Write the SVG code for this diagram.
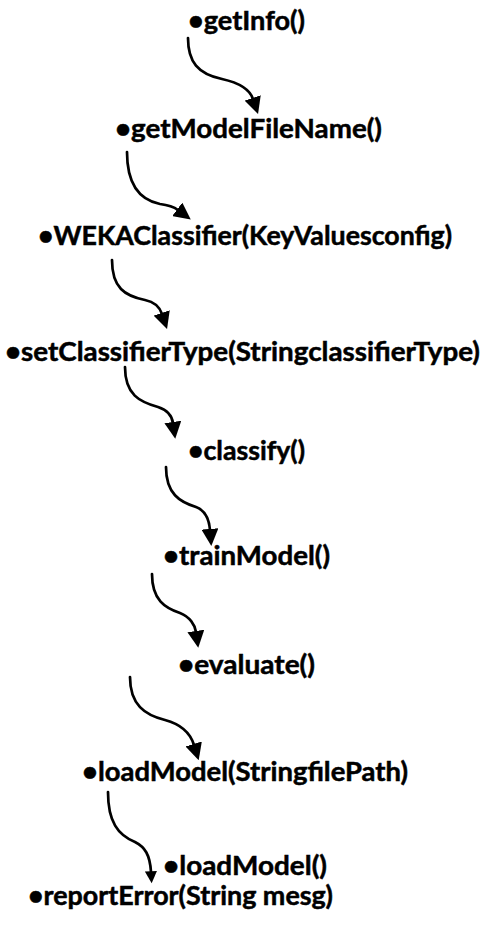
<svg xmlns="http://www.w3.org/2000/svg" width="485" height="935" viewBox="0 0 485 935">
<style>
.t{font-family:Lato,"Open Sans","Liberation Sans",sans-serif;font-weight:bold;font-size:27px;fill:#000;stroke:#000;stroke-width:0.5}
.c{fill:none;stroke:#000;stroke-width:2.7;stroke-linecap:round}
</style>
<defs>
<marker id="ah" viewBox="0 0 16 16" refX="1" refY="8" markerWidth="17" markerHeight="17" markerUnits="userSpaceOnUse" orient="auto">
<path d="M0,0 L16,8 L0,16 Z" fill="#000"/>
</marker>
<marker id="ahs" viewBox="0 0 16 16" refX="1" refY="8" markerWidth="13" markerHeight="12" markerUnits="userSpaceOnUse" orient="auto">
<path d="M0,0 L16,8 L0,16 Z" fill="#000"/>
</marker>
</defs>
<rect width="485" height="935" fill="#fff"/>
<g id="connectors">
<path class="c" marker-end="url(#ah)" d="M188,38 C188,62 198,74 222,79 C240,83 250,90 253,99"/>
<path class="c" marker-end="url(#ah)" d="M127,152 C127,185 140,200 160,204 C168,205 174,207 178,210"/>
<path class="c" marker-end="url(#ah)" d="M112,260 C112,288 125,296 145,300 C155,302 160,308 162,314"/>
<path class="c" marker-end="url(#ah)" d="M125,367 C125,395 140,402 158,407 C167,410 172,416 173,423"/>
<path class="c" marker-end="url(#ah)" d="M166,467 C166,494 180,502 196,507 C204,510 209,518 210,530"/>
<path class="c" marker-end="url(#ah)" d="M152,574 C152,600 165,608 180,613 C190,617 195,625 196,632"/>
<path class="c" marker-end="url(#ah)" d="M130,677 C130,705 145,715 165,720 C180,724 190,732 194,745"/>
<path class="c" marker-end="url(#ahs)" d="M108,792 C108,822 118,835 135,842 C145,847 150,855 151,872"/>
</g>
<g id="n1"><text class="t" x="188" y="30" textLength="117" lengthAdjust="spacingAndGlyphs">•getInfo()</text></g>
<g id="n2"><text class="t" x="115" y="138" textLength="267" lengthAdjust="spacingAndGlyphs">•getModelFileName()</text></g>
<g id="n3"><text class="t" x="38" y="245" textLength="414" lengthAdjust="spacingAndGlyphs">•WEKAClassifier(KeyValuesconfig)</text></g>
<g id="n4"><text class="t" x="5" y="361" textLength="475" lengthAdjust="spacingAndGlyphs">•setClassifierType(StringclassifierType)</text></g>
<g id="n5"><text class="t" x="188" y="460" textLength="117" lengthAdjust="spacingAndGlyphs">•classify()</text></g>
<g id="n6"><text class="t" x="163" y="565" textLength="167" lengthAdjust="spacingAndGlyphs">•trainModel()</text></g>
<g id="n7"><text class="t" x="178" y="674" textLength="137" lengthAdjust="spacingAndGlyphs">•evaluate()</text></g>
<g id="n8"><text class="t" x="82" y="781" textLength="326" lengthAdjust="spacingAndGlyphs">•loadModel(StringfilePath)</text></g>
<g id="n9"><text class="t" x="163" y="875" textLength="164" lengthAdjust="spacingAndGlyphs">•loadModel()</text></g>
<g id="n10"><text class="t" x="28" y="905" textLength="305" lengthAdjust="spacingAndGlyphs">•reportError(String mesg)</text></g>
</svg>
